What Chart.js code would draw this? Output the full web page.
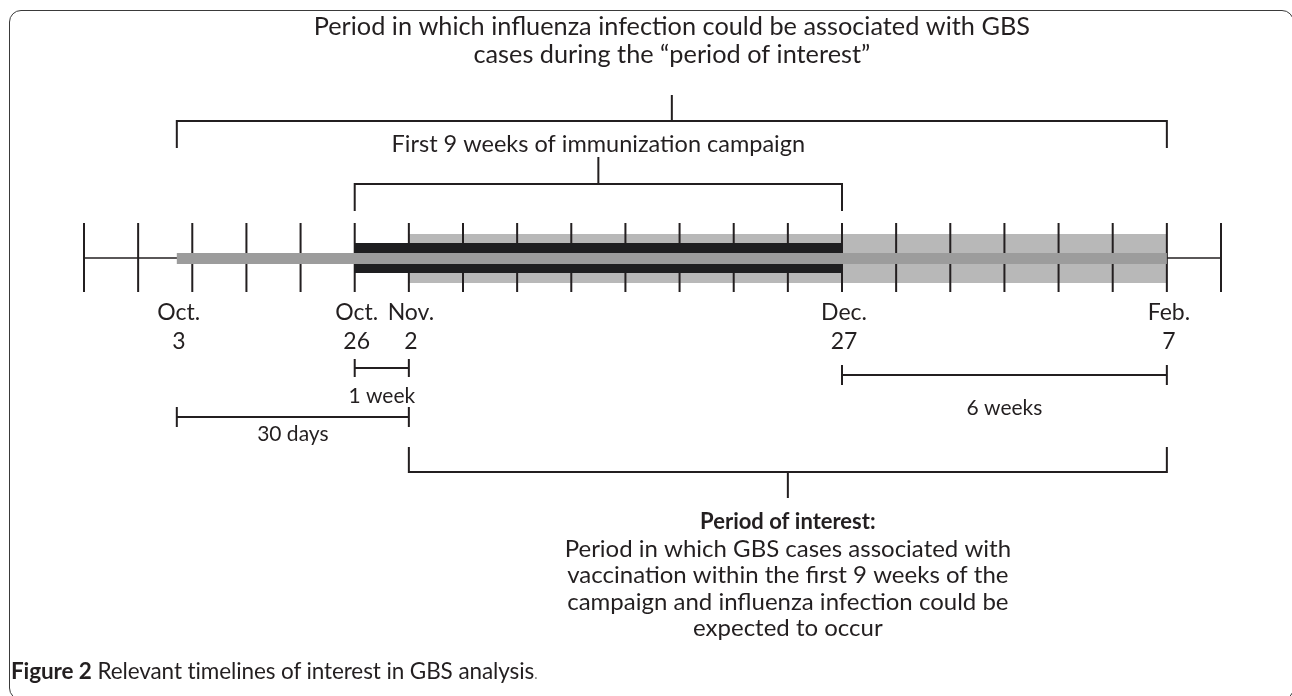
<!DOCTYPE html>
<html>
<head>
<meta charset="utf-8">
<script src="https://cdn.jsdelivr.net/npm/chart.js@4.4.1/dist/chart.umd.min.js"></script>
<style>
  html, body { margin:0; padding:0; background:#fff; width:1292px; height:696px; overflow:hidden; }
  #frame { position:absolute; left:9px; top:10px; width:1285px; height:690px; border:1.5px solid #3a3a3a; border-radius:12px; box-sizing:border-box; }
  #wrap { position:absolute; left:0; top:0; width:1292px; height:696px; }
  #caption { position:absolute; left:11px; top:657px; font-family:Lato, "Open Sans", sans-serif; font-size:22.5px; color:#231f20; white-space:nowrap; letter-spacing:-0.1px; }
  #caption b { font-weight:700; }
  #caption .dot { color:#888; font-size:16px; }
</style>
</head>
<body>
<div id="frame"></div>
<div id="wrap"><canvas id="c" width="1292" height="696"></canvas></div>
<div id="caption"><b>Figure 2</b> Relevant timelines of interest in GBS analysis<span class="dot">.</span></div>
<script>
// ---- Data (days relative to Nov. 2) ----
const weekTicks = [-42,-35,-28,-21,-14,-7,0,7,14,21,28,35,42,49,56,63,70,77,84,91,98,105];
const dateMonths = ['Oct.','Oct.','Nov.','Dec.','Feb.'];
const dateDays   = ['3','26','2','27','7'];
const datePos    = [-30,-7,0,56,98];
// periods [start, end]
const influenzaWindow  = [-30, 98];   // Oct 3 -> Feb 7 (thin grey bar)
const campaign9Weeks   = [-7, 56];    // Oct 26 -> Dec 27 (black band)
const periodOfInterest = [0, 98];     // Nov 2 -> Feb 7 (light grey band)
const oneWeek  = [-7, 0];
const thirtyDays = [-30, 0];
const sixWeeks = [56, 98];
const axisRange = [-42, 105];

// ---- layout (pixel rows) ----
const Y = { axis:258, tickTop:223, tickBot:292 };
const INK = '#231f20';

function seg(points){ return points.map(p=>({x:p[0], y:p[1]})); }
function bracketDown(a, b, yH, yEnd, yStem){
  const mid = (a+b)/2;
  return [{x:a,y:yEnd},{x:a,y:yH},{x:b,y:yH},{x:b,y:yEnd},{x:null,y:null},{x:mid,y:yH},{x:mid,y:yStem}];
}
function dim(a,b,y,h){
  return [{x:a,y:y-h},{x:a,y:y+h},{x:a,y:null},{x:a,y:y},{x:b,y:y},{x:b,y:null},{x:b,y:y-h},{x:b,y:y+h}];
}
const tickPts = [];
weekTicks.forEach(t=>{ tickPts.push({x:t,y:Y.tickTop},{x:t,y:Y.tickBot},{x:t,y:null}); });

function lineDS(data, color, width, order){
  return { data, borderColor:color, borderWidth:width, pointRadius:0, borderCapStyle:'butt', borderJoinStyle:'miter', spanGaps:false, tension:0, order, clip:false, fill:false };
}

const datasets = [
  lineDS(seg([[periodOfInterest[0],258.5],[periodOfInterest[1],258.5]]), '#b8b8b8', 49, 10),
  lineDS(seg([[axisRange[0],Y.axis],[axisRange[1],Y.axis]]), INK, 1.5, 9),
  lineDS(tickPts, INK, 2, 8),
  lineDS(seg([[campaign9Weeks[0],258],[campaign9Weeks[1],258]]), '#1e1e20', 30, 7),
  lineDS(seg([[influenzaWindow[0],258.5],[influenzaWindow[1],258.5]]), '#9c9c9c', 11, 6),
  lineDS(bracketDown(influenzaWindow[0], influenzaWindow[1], 121, 148, 95), INK, 2, 1),
  lineDS(bracketDown(campaign9Weeks[0], campaign9Weeks[1], 184, 211, 157), INK, 2, 1),
  lineDS(bracketDown(periodOfInterest[0], periodOfInterest[1], 472, 447, 498), INK, 2, 1),
  lineDS(dim(oneWeek[0], oneWeek[1], 368, 9), INK, 2, 1),
  lineDS(dim(thirtyDays[0], thirtyDays[1], 417, 10), INK, 2, 1),
  lineDS(dim(sixWeeks[0], sixWeeks[1], 375, 10), INK, 2, 1),
];

const FONT = 'Lato, "Open Sans", sans-serif';
const textPlugin = {
  id:'texts',
  afterDatasetsDraw(chart){
    const ctx = chart.ctx, xs = chart.scales.x;
    const px = v => xs.getPixelForValue(v);
    ctx.save();
    ctx.fillStyle = INK; ctx.textAlign='center'; ctx.textBaseline='middle';
    ctx.font = '25.3px ' + FONT;
    const midInf = (influenzaWindow[0]+influenzaWindow[1])/2;
    ctx.fillText('Period in which influenza infection could be associated with GBS', px(midInf), 27);
    ctx.fillText('cases during the \u201Cperiod of interest\u201D', px(midInf), 55);
    ctx.font = '23.5px ' + FONT;
    ctx.fillText('First 9 weeks of immunization campaign', px((campaign9Weeks[0]+campaign9Weeks[1])/2), 144);
    ctx.font = '23px ' + FONT;
    datePos.forEach((d,i)=>{
      ctx.fillText(dateMonths[i], px(d)+2, 313);
      ctx.fillText(dateDays[i], px(d)+2, 342);
    });
    ctx.font = '21px ' + FONT;
    ctx.fillText('1 week', px((oneWeek[0]+oneWeek[1])/2), 396);
    ctx.fillText('30 days', px((thirtyDays[0]+thirtyDays[1])/2), 434);
    ctx.fillText('6 weeks', px((sixWeeks[0]+sixWeeks[1])/2), 408);
    const midPoi = (periodOfInterest[0]+periodOfInterest[1])/2;
    ctx.font = 'bold 22px ' + FONT;
    ctx.fillText('Period of interest:', px(midPoi), 522);
    ctx.font = '24px ' + FONT;
    const lines = ['Period in which GBS cases associated with','vaccination within the first 9 weeks of the','campaign and influenza infection could be','expected to occur'];
    lines.forEach((l,i)=> ctx.fillText(l, px(midPoi), 549 + i*26.5));
    ctx.restore();
  }
};

new Chart(document.getElementById('c'), {
  type:'line',
  data:{ datasets },
  options:{
    responsive:false, animation:false, devicePixelRatio:1,
    layout:{ padding:{ left:84, right:71, top:0, bottom:0 } },
    plugins:{ legend:{display:false}, tooltip:{enabled:false} },
    scales:{
      x:{ type:'linear', min:axisRange[0], max:axisRange[1], display:false },
      y:{ type:'linear', min:0, max:696, reverse:true, display:false }
    }
  },
  plugins:[textPlugin]
});
</script>
</body>
</html>
